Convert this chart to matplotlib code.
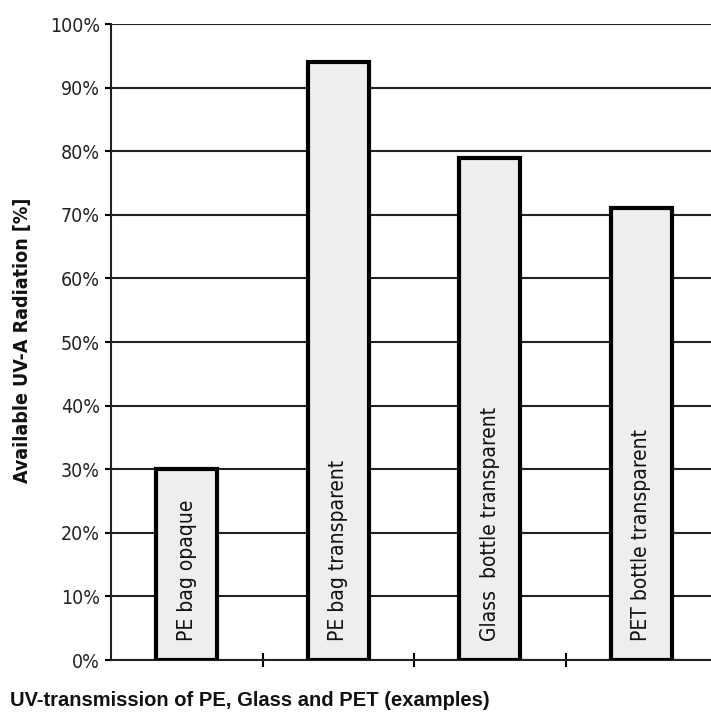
import matplotlib
matplotlib.use("Agg")
import matplotlib.pyplot as plt
from matplotlib.ticker import FuncFormatter

categories = ["PE bag opaque", "PE bag transparent", "Glass  bottle transparent", "PET bottle transparent"]
uva_available = [30, 94, 79, 71]
y_ticks = [0, 10, 20, 30, 40, 50, 60, 70, 80, 90, 100]

narrow = ["DejaVu Sans"]
regular = ["Liberation Sans", "DejaVu Sans"]

fig = plt.figure(figsize=(7.11, 7.17), dpi=100)
ax = fig.add_axes([111 / 711, 57 / 717, 606 / 711, 636 / 717])

x = list(range(len(categories)))
ax.bar(x, uva_available, width=0.4, color="#eeeeee", edgecolor="black",
       linewidth=3, zorder=3)

for xi, name in zip(x, categories):
    ax.text(xi, 3, name, rotation=90, ha="center", va="bottom",
            family=narrow, fontstretch="condensed", fontsize=15,
            color="#111111", zorder=4)

ax.set_xlim(-0.5, 3.5)
ax.set_ylim(0, 100)
ax.set_yticks(y_ticks)
ax.yaxis.set_major_formatter(FuncFormatter(lambda v, p: f"{v:.0f}%"))
ax.set_xticks([0.5, 1.5, 2.5])
ax.set_xticklabels([])

ax.grid(axis="y", color="#222222", linewidth=1.5, zorder=1)
for s in ["top", "right"]:
    ax.spines[s].set_visible(False)
for s in ["left", "bottom"]:
    ax.spines[s].set_linewidth(1.5)
    ax.spines[s].set_color("#222222")

ax.tick_params(axis="y", direction="out", length=4, width=1.5, pad=4,
               labelsize=14)
ax.tick_params(axis="x", direction="inout", length=10, width=1.5)
for lbl in ax.get_yticklabels():
    lbl.set_family(narrow)
    lbl.set_fontstretch("condensed")
    lbl.set_color("#222222")

fig.text(23 / 711, 1 - 340 / 717, "Available UV-A Radiation [%]", rotation=90,
         ha="center", va="center", family=narrow, fontstretch="condensed",
         fontweight="bold", fontsize=14, color="#111111")
fig.text(10 / 711, 1 - 700 / 717, "UV-transmission of PE, Glass and PET (examples)",
         ha="left", va="center", family=regular, fontweight="bold",
         fontsize=14.5, color="#111111")

fig.savefig("out.png", dpi=100)
